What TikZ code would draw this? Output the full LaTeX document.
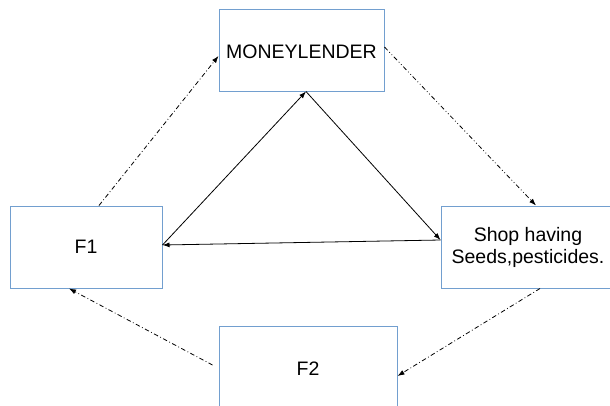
\documentclass[tikz,border=0pt]{standalone}
\usepackage{fontspec}
\setmainfont{Liberation Sans}
\usetikzlibrary{arrows.meta}
\definecolor{boxblue}{RGB}{114,159,207}
\tikzset{
  box/.style={draw=boxblue, line width=1pt, rectangle, align=center, font=\fontsize{19.5}{22}\selectfont, inner sep=0pt},
  conn/.style={line width=0.8pt, -{Latex[length=7pt,width=5pt]}},
  dashdot/.style={conn, dash pattern=on 4.5pt off 2.5pt on 0.8pt off 2.5pt},
  dashdotdot/.style={conn, dash pattern=on 4.5pt off 2.5pt on 0.8pt off 2.5pt on 0.8pt off 2.5pt}
}
\begin{document}
\begin{tikzpicture}[x=1pt,y=-1pt]
\useasboundingbox (0,0) rectangle (610,405);
\node[box, minimum width=165pt, minimum height=82pt] (ml) at (301.5,50) {};
\node at (301.5,52) [font=\fontsize{19.5}{22}\selectfont, inner sep=0pt] (mltext) {MONEYLENDER};
\node[box, minimum width=152pt, minimum height=82pt] (f1) at (86,247) {F1};
\node[box, minimum width=174pt, minimum height=82pt] (shop) at (528,247) {Shop having\\Seeds,pesticides.};
\node[box, minimum width=178pt, minimum height=86pt] (f2) at (308,369) {F2};

\draw[dashdot] ([xshift=13pt]f1.north) -- ([yshift=-6pt]ml.west);
\draw[dashdotdot] ([yshift=3pt]ml.east) -- ([xshift=8pt]shop.north);
\draw[dashdot] ([xshift=12pt]shop.south) -- ([yshift=-7pt]f2.east);
\draw[dashdot] ([xshift=-6pt,yshift=4pt]f2.west) -- ([xshift=-17pt]f1.south);

\draw[conn] ([yshift=2pt]f1.east) -- ([xshift=4.5pt]ml.south);
\draw[conn] ([xshift=4.5pt]ml.south) -- ([yshift=7pt]shop.west);
\draw[conn] ([yshift=7pt]shop.west) -- ([yshift=2pt]f1.east);
\end{tikzpicture}
\end{document}
